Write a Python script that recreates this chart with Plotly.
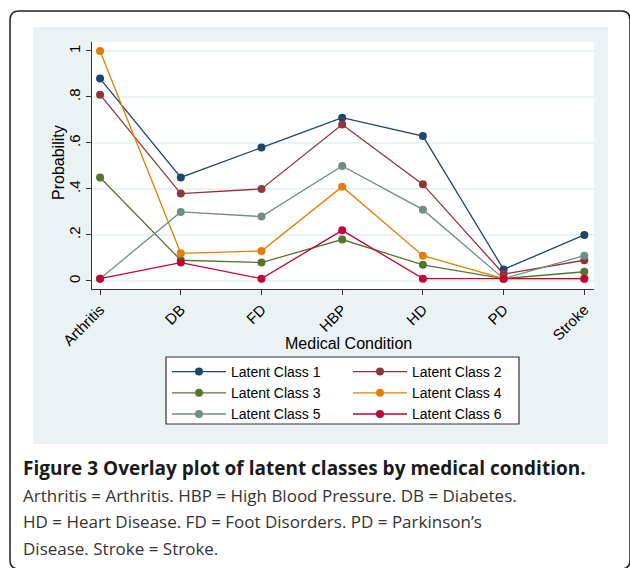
import plotly.graph_objects as go

conditions = ["Arthritis", "DB", "FD", "HBP", "HD", "PD", "Stroke"]
class_names = ["Latent Class 1", "Latent Class 2", "Latent Class 3",
               "Latent Class 4", "Latent Class 5", "Latent Class 6"]
class1 = [0.88, 0.45, 0.58, 0.71, 0.63, 0.05, 0.20]
class2 = [0.81, 0.38, 0.40, 0.68, 0.42, 0.03, 0.09]
class3 = [0.45, 0.09, 0.08, 0.18, 0.07, 0.01, 0.04]
class4 = [1.00, 0.12, 0.13, 0.41, 0.11, 0.01, 0.01]
class5 = [0.01, 0.30, 0.28, 0.50, 0.31, 0.01, 0.11]
class6 = [0.01, 0.08, 0.01, 0.22, 0.01, 0.01, 0.01]
y_tickvals = [0, 0.2, 0.4, 0.6, 0.8, 1]
y_ticktext = ["0", ".2", ".4", ".6", ".8", "1"]

colors = ["#1a476f", "#90353b", "#55752f", "#e37e00", "#6e8e84", "#c10534"]
series = [class1, class2, class3, class4, class5, class6]

W, H = 630, 568
PX0, PX1, PY0, PY1 = 92, 594, 42, 289  # plot area in pixels


def px(x):
    return (x - PX0) / (PX1 - PX0)


def py(y):
    return (PY1 - y) / (PY1 - PY0)


fig = go.Figure()
xs = list(range(len(conditions)))
for i, (name, vals, col) in enumerate(zip(class_names, series, colors)):
    fig.add_trace(go.Scatter(
        x=xs, y=vals, name=name, mode="lines+markers",
        line=dict(color=col, width=1.3),
        marker=dict(color=col, size=8),
        legend="legend" if i % 2 == 0 else "legend2",
    ))

# background shapes
bx0, by0, bx1, by1, r = 10, 11, 630, 569, 9
path = (f"M {px(bx0 + r)},{py(by0)} L {px(bx1 - r)},{py(by0)} "
        f"Q {px(bx1)},{py(by0)} {px(bx1)},{py(by0 + r)} "
        f"L {px(bx1)},{py(by1 - r)} Q {px(bx1)},{py(by1)} {px(bx1 - r)},{py(by1)} "
        f"L {px(bx0 + r)},{py(by1)} Q {px(bx0)},{py(by1)} {px(bx0)},{py(by1 - r)} "
        f"L {px(bx0)},{py(by0 + r)} Q {px(bx0)},{py(by0)} {px(bx0 + r)},{py(by0)} Z")

shapes = [
    dict(type="path", xref="paper", yref="paper", path=path,
         line=dict(color="#222222", width=1.5), layer="below"),
    dict(type="rect", xref="paper", yref="paper", x0=px(33), x1=px(608),
         y0=py(444), y1=py(27), fillcolor="#eaf2f3", line=dict(width=0), layer="below"),
    dict(type="rect", xref="paper", yref="paper", x0=px(92), x1=px(594),
         y0=py(289), y1=py(42), fillcolor="#ffffff", line=dict(width=0), layer="below"),
    dict(type="rect", xref="paper", yref="paper", x0=px(166), x1=px(519),
         y0=py(424), y1=py(357), fillcolor="#ffffff",
         line=dict(color="#333333", width=1.2), layer="below"),
]

cap_font = "Open Sans, Lato, Noto Sans, sans-serif"
ax_family = "Liberation Sans, Arial, sans-serif"
annotations = [
    dict(text="Medical Condition", x=px(348), y=py(343), xref="paper", yref="paper",
         xanchor="center", yanchor="middle", showarrow=False,
         font=dict(family=ax_family, size=16, color="#000000")),
    dict(text="Probability", x=px(58), y=py(163), xref="paper", yref="paper",
         xanchor="center", yanchor="middle", showarrow=False, textangle=-90,
         font=dict(family=ax_family, size=16, color="#000000")),
    dict(text="<b>Figure 3 Overlay plot of latent classes by medical condition.</b>",
         x=px(21), y=py(468), xref="paper", yref="paper", xanchor="left", yanchor="middle",
         showarrow=False, font=dict(family=cap_font, size=19, color="#1a1a1a")),
    dict(text="Arthritis = Arthritis. HBP = High Blood Pressure. DB = Diabetes.",
         x=px(21), y=py(495), xref="paper", yref="paper", xanchor="left", yanchor="middle",
         showarrow=False, font=dict(family=cap_font, size=17, color="#333333")),
    dict(text="HD = Heart Disease. FD = Foot Disorders. PD = Parkinson’s",
         x=px(21), y=py(521), xref="paper", yref="paper", xanchor="left", yanchor="middle",
         showarrow=False, font=dict(family=cap_font, size=17, color="#333333")),
    dict(text="Disease. Stroke = Stroke.",
         x=px(21), y=py(548), xref="paper", yref="paper", xanchor="left", yanchor="middle",
         showarrow=False, font=dict(family=cap_font, size=17, color="#333333")),
]

axis_font = dict(family=ax_family, size=15, color="#000000")
fig.update_layout(
    width=W, height=H,
    margin=dict(l=PX0, r=W - PX1, t=PY0, b=H - PY1, pad=0, autoexpand=False),
    paper_bgcolor="#ffffff", plot_bgcolor="rgba(0,0,0,0)",
    font=dict(family=ax_family, color="#000000"),
    shapes=shapes, annotations=annotations,
    xaxis=dict(
        range=[-0.1, 6.12], tickmode="array", tickvals=xs, ticktext=conditions,
        tickangle=-45, ticks="outside", ticklen=5, tickcolor="#333333",
        showline=True, linecolor="#333333", linewidth=1.2, showgrid=False,
        zeroline=False, tickfont=axis_font, automargin=False,
    ),
    yaxis=dict(
        range=[-0.035, 1.039], tickmode="array", tickvals=y_tickvals, ticktext=y_ticktext,
        tickangle=-90, ticks="outside", ticklen=5, tickcolor="#333333",
        showline=True, linecolor="#333333", linewidth=1.2, showgrid=True,
        gridcolor="#eaf2f3", gridwidth=1.5, zeroline=False, tickfont=axis_font,
        automargin=False, ticklabelstandoff=0,
    ),
    legend=dict(x=px(167), y=py(356), xanchor="left", yanchor="top",
                bgcolor="rgba(0,0,0,0)", borderwidth=0, itemwidth=54,
                font=dict(size=14, color="#000000"), tracegroupgap=0),
    legend2=dict(x=px(348), y=py(356), xanchor="left", yanchor="top",
                 bgcolor="rgba(0,0,0,0)", borderwidth=0, itemwidth=54,
                 font=dict(size=14, color="#000000"), tracegroupgap=0),
)

fig.write_html("out.html", config={"displayModeBar": False},
               post_script="document.body.style.margin='0px';document.body.style.overflow='hidden';")
